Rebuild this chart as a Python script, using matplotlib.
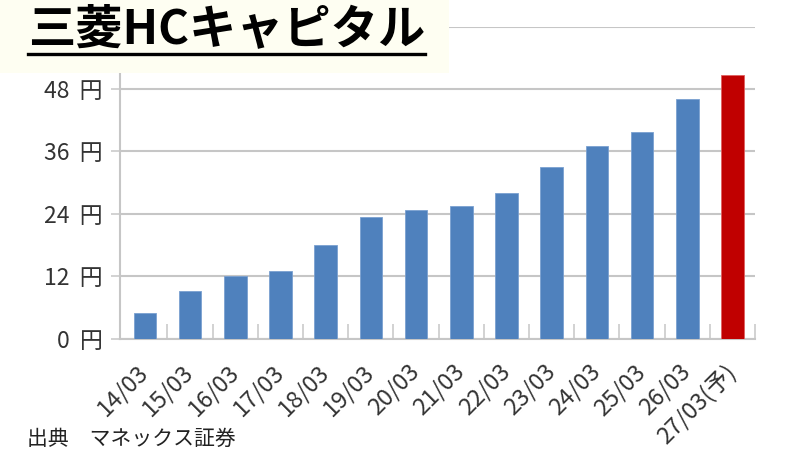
import matplotlib
matplotlib.use("Agg")
import matplotlib.pyplot as plt
from matplotlib.patches import Rectangle
from matplotlib.lines import Line2D

plt.rcParams['font.family'] = ['Noto Sans CJK JP', 'DejaVu Sans']

# data (dividend per share, yen)
periods = ['14/03', '15/03', '16/03', '17/03', '18/03', '19/03', '20/03',
           '21/03', '22/03', '23/03', '24/03', '25/03', '26/03', '27/03(予)']
dividends = [5, 9.3, 12, 13, 18, 23.5, 24.7, 25.5, 28, 33, 37, 39.8, 46, 50.7]
is_forecast = [False] * 13 + [True]
yticks = [0, 12, 24, 36, 48, 60]
ytick_labels = ['0  円', '12  円', '24  円', '36  円', '48  円', '']  # 60 sits under the title box

title = '三菱HCキャピタル'
source = '出典\u3000マネックス証券'

blue = '#4f81bd'
red = '#c00000'
grid_gray = '#c6c6c6'
text_gray = '#333333'

fig = plt.figure(figsize=(8, 4.5), dpi=100)
ax = fig.add_axes([0.15, 0.2467, 0.79375, 0.6944])

x = list(range(len(periods)))
colors = [red if f else blue for f in is_forecast]
ax.bar(x, dividends, width=0.5, color=colors,
       edgecolor=['#e06060' if f else '#7aa0d0' for f in is_forecast],
       linewidth=0.6, zorder=3)

ax.set_xlim(-0.55, 13.5)
ax.set_ylim(0, 60)
ax.set_yticks(yticks)
ax.set_yticklabels(ytick_labels, fontsize=16.5, color=text_gray)
ax.yaxis.grid(True, color=grid_gray, linewidth=1.5, zorder=0)
ax.tick_params(axis='y', length=6.5, width=1.1, color=grid_gray, pad=6)

ax.set_xticks(x)
ax.set_xticklabels(periods, fontsize=17, color=text_gray, rotation=45,
                   ha='right', va='center', rotation_mode='anchor')
ax.tick_params(axis='x', which='major', length=0, pad=21)
ax.set_xticks([i + 0.5 for i in x], minor=True)
ax.tick_params(axis='x', which='minor', direction='in', length=10.5, width=1.1, color=grid_gray)

for side in ['top', 'right']:
    ax.spines[side].set_visible(False)
for side in ['left', 'bottom']:
    ax.spines[side].set_color(grid_gray)
    ax.spines[side].set_linewidth(1.5)

# title box covering the top left
fig.patches.append(Rectangle((0, 1 - 73 / 450), 449 / 800, 73 / 450, transform=fig.transFigure,
                             facecolor='#fefef2', edgecolor='none', zorder=10))
t = fig.text(28 / 800, 1 - 29 / 450, title, fontsize=34, fontweight='bold', color='black',
             ha='left', va='center', zorder=11)

fig.canvas.draw()
bb = t.get_window_extent().transformed(fig.transFigure.inverted())
fig.lines.append(Line2D([bb.x0, bb.x1], [1 - 53.5 / 450] * 2, transform=fig.transFigure,
                        color='black', linewidth=2.4, zorder=11))

fig.text(27 / 800, 1 - 439 / 450, source, fontsize=15, color='#222222', ha='left', va='center')

fig.savefig('out.png', dpi=100)
